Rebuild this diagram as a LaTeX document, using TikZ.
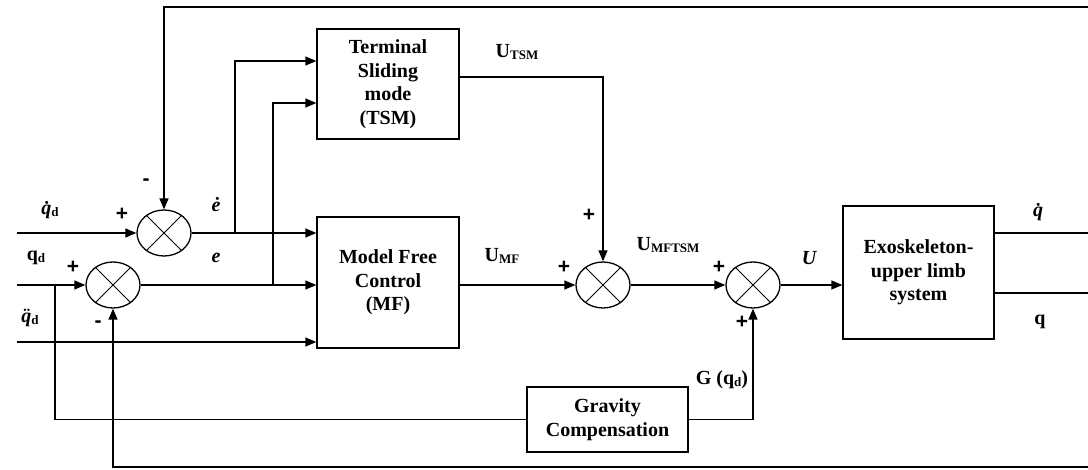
\documentclass[tikz,border=0pt]{standalone}
\usepackage{fontspec}
\setmainfont{Liberation Serif}
\newfontfamily\signfont{Liberation Sans}
\usetikzlibrary{shapes.geometric,arrows.meta,calc}
\newcommand{\sbs}[1]{\raisebox{-2pt}{\fontsize{13}{13}\selectfont #1}}
\begin{document}
\begin{tikzpicture}[x=1pt,y=-1pt,
  font=\fontsize{20}{23.5}\selectfont\bfseries,
  ln/.style={line width=1.3pt},
  arr/.style={ln,-{Triangle[length=11pt,width=9pt]}},
  blk/.style={draw,line width=1.3pt,align=center,inner sep=0pt},
  sumj/.style={draw,ellipse,line width=1.3pt,minimum width=54pt,minimum height=46pt,inner sep=0pt},
  lbl/.style={inner sep=0pt},
  sgn/.style={inner sep=0pt,font=\signfont\fontsize{21}{21}\selectfont\bfseries}]
\useasboundingbox (0,0) rectangle (1088,470);

% blocks
\node[blk,minimum width=142pt,minimum height=110pt] (TSM) at (388,84) {Terminal\\Sliding\\mode\\(TSM)};
\node[blk,minimum width=142pt,minimum height=131pt] (MF) at (388,282.5) {Model Free\\Control\\(MF)};
\node[blk,minimum width=151pt,minimum height=133pt] (Exo) at (918.5,272.5) {Exoskeleton-\\upper limb\\system};
\node[blk,minimum width=161pt,minimum height=65pt] (Grav) at (607.5,419.5) {Gravity\\Compensation};

% summing junctions
\node[sumj] (J1) at (164,233) {};
\node[sumj] (J2) at (113,285) {};
\node[sumj] (J3) at (603,285) {};
\node[sumj] (J4) at (753,285) {};
\foreach \j in {J1,J2,J3,J4}
  \draw[line width=0.9pt] (\j.45)--(\j.225) (\j.135)--(\j.315);

% free ends
\coordinate (in1) at (17,233);
\coordinate (in2) at (17,285);
\coordinate (in3) at (17,342);
\coordinate (b1) at (235,233);
\coordinate (b2) at (273,285);
\coordinate (b3) at (55,285);
\coordinate (Rtop) at (1088,7);
\coordinate (Rbot) at (1088,467);
\coordinate (o1) at (1088,233);
\coordinate (o2) at (1088,293);

% connectors
\draw[arr] (in1) -- (J1.west);
\draw[arr] (J1.east) -- (J1.east -| MF.west);
\draw[arr] (b1) |- ([yshift=23pt]TSM.west);
\draw[arr] (in2) -- (J2.west);
\draw[arr] (J2.east) -- (J2.east -| MF.west);
\draw[arr] (b2) |- ([yshift=-19pt]TSM.west);
\draw[arr] (in3) -- (in3 -| MF.west);
\draw[ln] (b3) |- (Grav.west);
\draw[arr] (Rtop) -| (J1.north);
\draw[arr] (Rbot) -| (J2.south);
\draw[arr] (J3.west -| MF.east) -- (J3.west);
\draw[arr] ([yshift=7pt]TSM.east) -| (J3.north);
\draw[arr] (J3.east) -- (J4.west);
\draw[arr] (J4.east) -- (J4.east -| Exo.west);
\draw[arr] (Grav.east) -| (J4.south);
\draw[ln] (o1 -| Exo.east) -- (o1);
\draw[ln] (o2 -| Exo.east) -- (o2);

% labels
\node[lbl] (l1) at (50,210) {{\itshape\.q}\sbs{d}};
\node[sgn] (l2) at (122,214) {+};
\node[sgn] (l3) at (146,182) {-};
\node[lbl] (l4) at (216,205) {{\itshape\.e}};
\node[lbl] (l5) at (216,258) {{\itshape e}};
\node[lbl] (l6) at (36,258) {q\sbs{d}};
\node[sgn] (l7) at (73,267) {+};
\node[lbl] (l8) at (30,318) {{\itshape\"q}\sbs{d}};
\node[sgn] (l9) at (98,324) {-};
\node[lbl] (l10) at (517,52) {U\sbs{TSM}};
\node[lbl] (l11) at (502,256) {U\sbs{MF}};
\node[sgn] (l12) at (589,215) {+};
\node[sgn] (l13) at (564,267) {+};
\node[lbl] (l14) at (668,245) {U\sbs{MFTSM}};
\node[sgn] (l15) at (719,267) {+};
\node[sgn] (l16) at (742,322) {+};
\node[lbl] (l17) at (809,258) {{\itshape U}};
\node[lbl] (l18) at (722,380) {G (q\sbs{d})};
\node[lbl] (l19) at (1038,212) {{\itshape\.q}};
\node[lbl] (l20) at (1040,322) {q};
\end{tikzpicture}
\end{document}
